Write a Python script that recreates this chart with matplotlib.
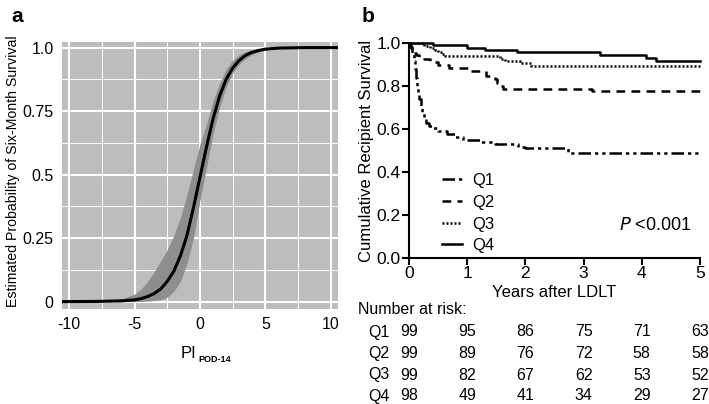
import numpy as np
import matplotlib
matplotlib.use("Agg")
import matplotlib.pyplot as plt
import matplotlib.transforms as mtransforms
from matplotlib.ticker import MultipleLocator

plt.rcParams['font.family'] = ['Liberation Sans', 'DejaVu Sans']
plt.rcParams['axes.unicode_minus'] = False

# ---- panel a: estimated probability vs PI ----
pi_x = [-10.6, -8, -6, -5, -4.5, -4, -3.5, -3, -2.5, -2, -1.5, -1, -0.5, 0,
        0.5, 1, 1.5, 2, 2.5, 3, 3.5, 4, 4.5, 5, 6, 8, 10.6]
prob = [0.0, 0.0008, 0.003, 0.007, 0.012, 0.02, 0.032, 0.05, 0.08, 0.12,
        0.18, 0.26, 0.37, 0.49, 0.61, 0.72, 0.81, 0.875, 0.92, 0.95,
        0.97, 0.982, 0.989, 0.994, 0.998, 1.0, 1.0]
prob_hi = [0.0, 0.002, 0.01, 0.03, 0.05, 0.08, 0.118, 0.16, 0.205, 0.26,
           0.33, 0.42, 0.52, 0.62, 0.7, 0.79, 0.86, 0.915, 0.95, 0.972,
           0.984, 0.991, 0.995, 0.997, 0.999, 1.0, 1.0]
prob_lo = [0.0, 0.0, 0.0, 0.0, 0.001, 0.002, 0.004, 0.008, 0.018, 0.04,
           0.08, 0.15, 0.25, 0.4, 0.53, 0.66, 0.765, 0.845, 0.9, 0.935,
           0.958, 0.973, 0.983, 0.99, 0.996, 1.0, 1.0]

# ---- panel b: Kaplan-Meier curves by quartile ----
q1_t = [0, 0.03, 0.06, 0.08, 0.1, 0.12, 0.14, 0.16, 0.18, 0.2, 0.23, 0.26,
        0.3, 0.35, 0.4, 0.5, 0.65, 0.79, 0.93, 1.22, 1.48, 1.88, 2.0, 2.74, 5.0]
q1_s = [1.0, 0.98, 0.95, 0.92, 0.88, 0.84, 0.80, 0.77, 0.74, 0.71, 0.68,
        0.655, 0.63, 0.615, 0.605, 0.593, 0.576, 0.562, 0.549, 0.541, 0.529,
        0.518, 0.511, 0.487, 0.487]
q2_t = [0, 0.02, 0.05, 0.08, 0.12, 0.18, 0.25, 0.36, 0.5, 0.68, 1.05, 1.33,
        1.48, 1.52, 1.56, 1.62, 3.14, 5.0]
q2_s = [1.0, 0.985, 0.97, 0.955, 0.945, 0.938, 0.928, 0.913, 0.9, 0.887,
        0.871, 0.848, 0.832, 0.815, 0.80, 0.789, 0.778, 0.778]
q3_t = [0, 0.25, 0.36, 0.45, 0.5, 0.56, 0.62, 1.56, 1.65, 1.9, 2.1, 5.0]
q3_s = [1.0, 0.99, 0.98, 0.97, 0.96, 0.95, 0.94, 0.928, 0.918, 0.907, 0.895, 0.895]
q4_t = [0, 0.42, 0.99, 1.31, 1.85, 3.28, 4.08, 4.25, 5.0]
q4_s = [1.0, 0.993, 0.98, 0.969, 0.96, 0.947, 0.932, 0.918, 0.918]

groups = ['Q1', 'Q2', 'Q3', 'Q4']
risk_years = [0, 1, 2, 3, 4, 5]
at_risk = {
    'Q1': [99, 95, 86, 75, 71, 63],
    'Q2': [99, 89, 76, 72, 58, 58],
    'Q3': [99, 82, 67, 62, 53, 52],
    'Q4': [98, 49, 41, 34, 29, 27],
}

W, H = 709, 404
fig = plt.figure(figsize=(W / 100, H / 100), dpi=100)
fig.patch.set_facecolor('white')

# ----------------------------- panel a -----------------------------
ax1 = fig.add_axes([62 / W, 1 - 309 / H, 276 / W, 267 / H])
ax1.set_facecolor('#bdbdbd')
ax1.set_xlim(-10.55, 10.55)
ax1.set_ylim(-0.029, 1.022)
ax1.xaxis.set_major_locator(MultipleLocator(5))
ax1.xaxis.set_minor_locator(MultipleLocator(2.5))
ax1.set_yticks([0, 0.25, 0.5, 0.75, 1.0])
ax1.set_yticklabels(['0', '0.25', '0.5', '0.75', '1.0'])
ax1.yaxis.set_minor_locator(MultipleLocator(0.125))
ax1.grid(which='major', color='white', lw=1.5)
ax1.grid(which='minor', color='white', lw=0.7)
ax1.set_axisbelow(True)
for s in ax1.spines.values():
    s.set_visible(False)
ax1.tick_params(which='both', length=0, labelsize=11.5, pad=6)

ax1.fill_between(pi_x, prob_lo, prob_hi, color='#8e8e8e', lw=0)
ax1.plot(pi_x, prob, color='black', lw=2.2)

ax1.set_ylabel('Estimated Probability of Six-Month Survival', fontsize=10.2)
ax1.yaxis.set_label_coords(-0.153, 0.517)
fig.text(181 / W, 1 - 353 / H, 'PI', fontsize=12, va='center', ha='left')
fig.text(198 / W, 1 - 359 / H, 'POD-14', fontsize=6.5, va='center', ha='left',
         fontweight='bold')
fig.text(17 / W, 1 - 16 / H, 'a', fontsize=15, fontweight='bold', ha='center', va='center')

# ----------------------------- panel b -----------------------------
ax2 = fig.add_axes([409 / W, 1 - 257.7 / H, 291 / W, 214.3 / H])
ax2.set_xlim(0, 5)
ax2.set_ylim(0, 1.0)
ax2.spines['top'].set_visible(False)
ax2.spines['right'].set_visible(False)
for s in ('left', 'bottom'):
    ax2.spines[s].set_linewidth(1.5)
ax2.set_xticks(risk_years)
ax2.set_yticks([0, 0.2, 0.4, 0.6, 0.8, 1.0])
ax2.set_yticklabels(['0.0', '0.2', '0.4', '0.6', '0.8', '1.0'])
ax2.tick_params(direction='out', length=5, width=1.5, labelsize=12.5, pad=1)

styles = {
    'Q1': dict(dashes=(5, 1.6, 1.3, 1.6, 1.3, 1.6)),
    'Q2': dict(dashes=(3.5, 2.5)),
    'Q3': dict(dashes=(0.8, 0.8)),
    'Q4': dict(linestyle='-'),
}
series = {'Q1': (q1_t, q1_s), 'Q2': (q2_t, q2_s), 'Q3': (q3_t, q3_s), 'Q4': (q4_t, q4_s)}
for g in groups:
    t, s = series[g]
    ax2.plot(t, s, drawstyle='steps-post', color='black', lw=1.8,
             clip_on=False, label=g, **styles[g])

leg = ax2.legend(loc='upper left', bbox_to_anchor=(0.09, 0.425), frameon=False,
                 fontsize=12, handlelength=1.2, handletextpad=0.6,
                 labelspacing=0.4, borderaxespad=0)

ax2.text(0.97, 0.15, r'$\it{P}$ <0.001', transform=ax2.transAxes, ha='right',
         va='center', fontsize=13)
ax2.set_xlabel('Years after LDLT', fontsize=12, labelpad=3)
ax2.set_ylabel('Cumulative Recipient Survival', fontsize=12)
ax2.yaxis.set_label_coords(-0.12, 0.5)
fig.text(368 / W, 1 - 16 / H, 'b', fontsize=15, fontweight='bold', ha='center', va='center')

# number at risk table
tr = mtransforms.blended_transform_factory(ax2.transData, fig.transFigure)
fig.text(358 / W, 1 - 310 / H, 'Number at risk:', fontsize=11.5, va='center', ha='left')
row_y = [332, 353.5, 375, 396]
for g, yy in zip(groups, row_y):
    fig.text(368 / W, 1 - yy / H, g, fontsize=11.5, va='center', ha='left')
    for yr, n in zip(risk_years, at_risk[g]):
        ax2.text(yr, 1 - yy / H, str(n), transform=tr, fontsize=11.5,
                 va='center', ha='center')

fig.savefig('out.png', dpi=100)
